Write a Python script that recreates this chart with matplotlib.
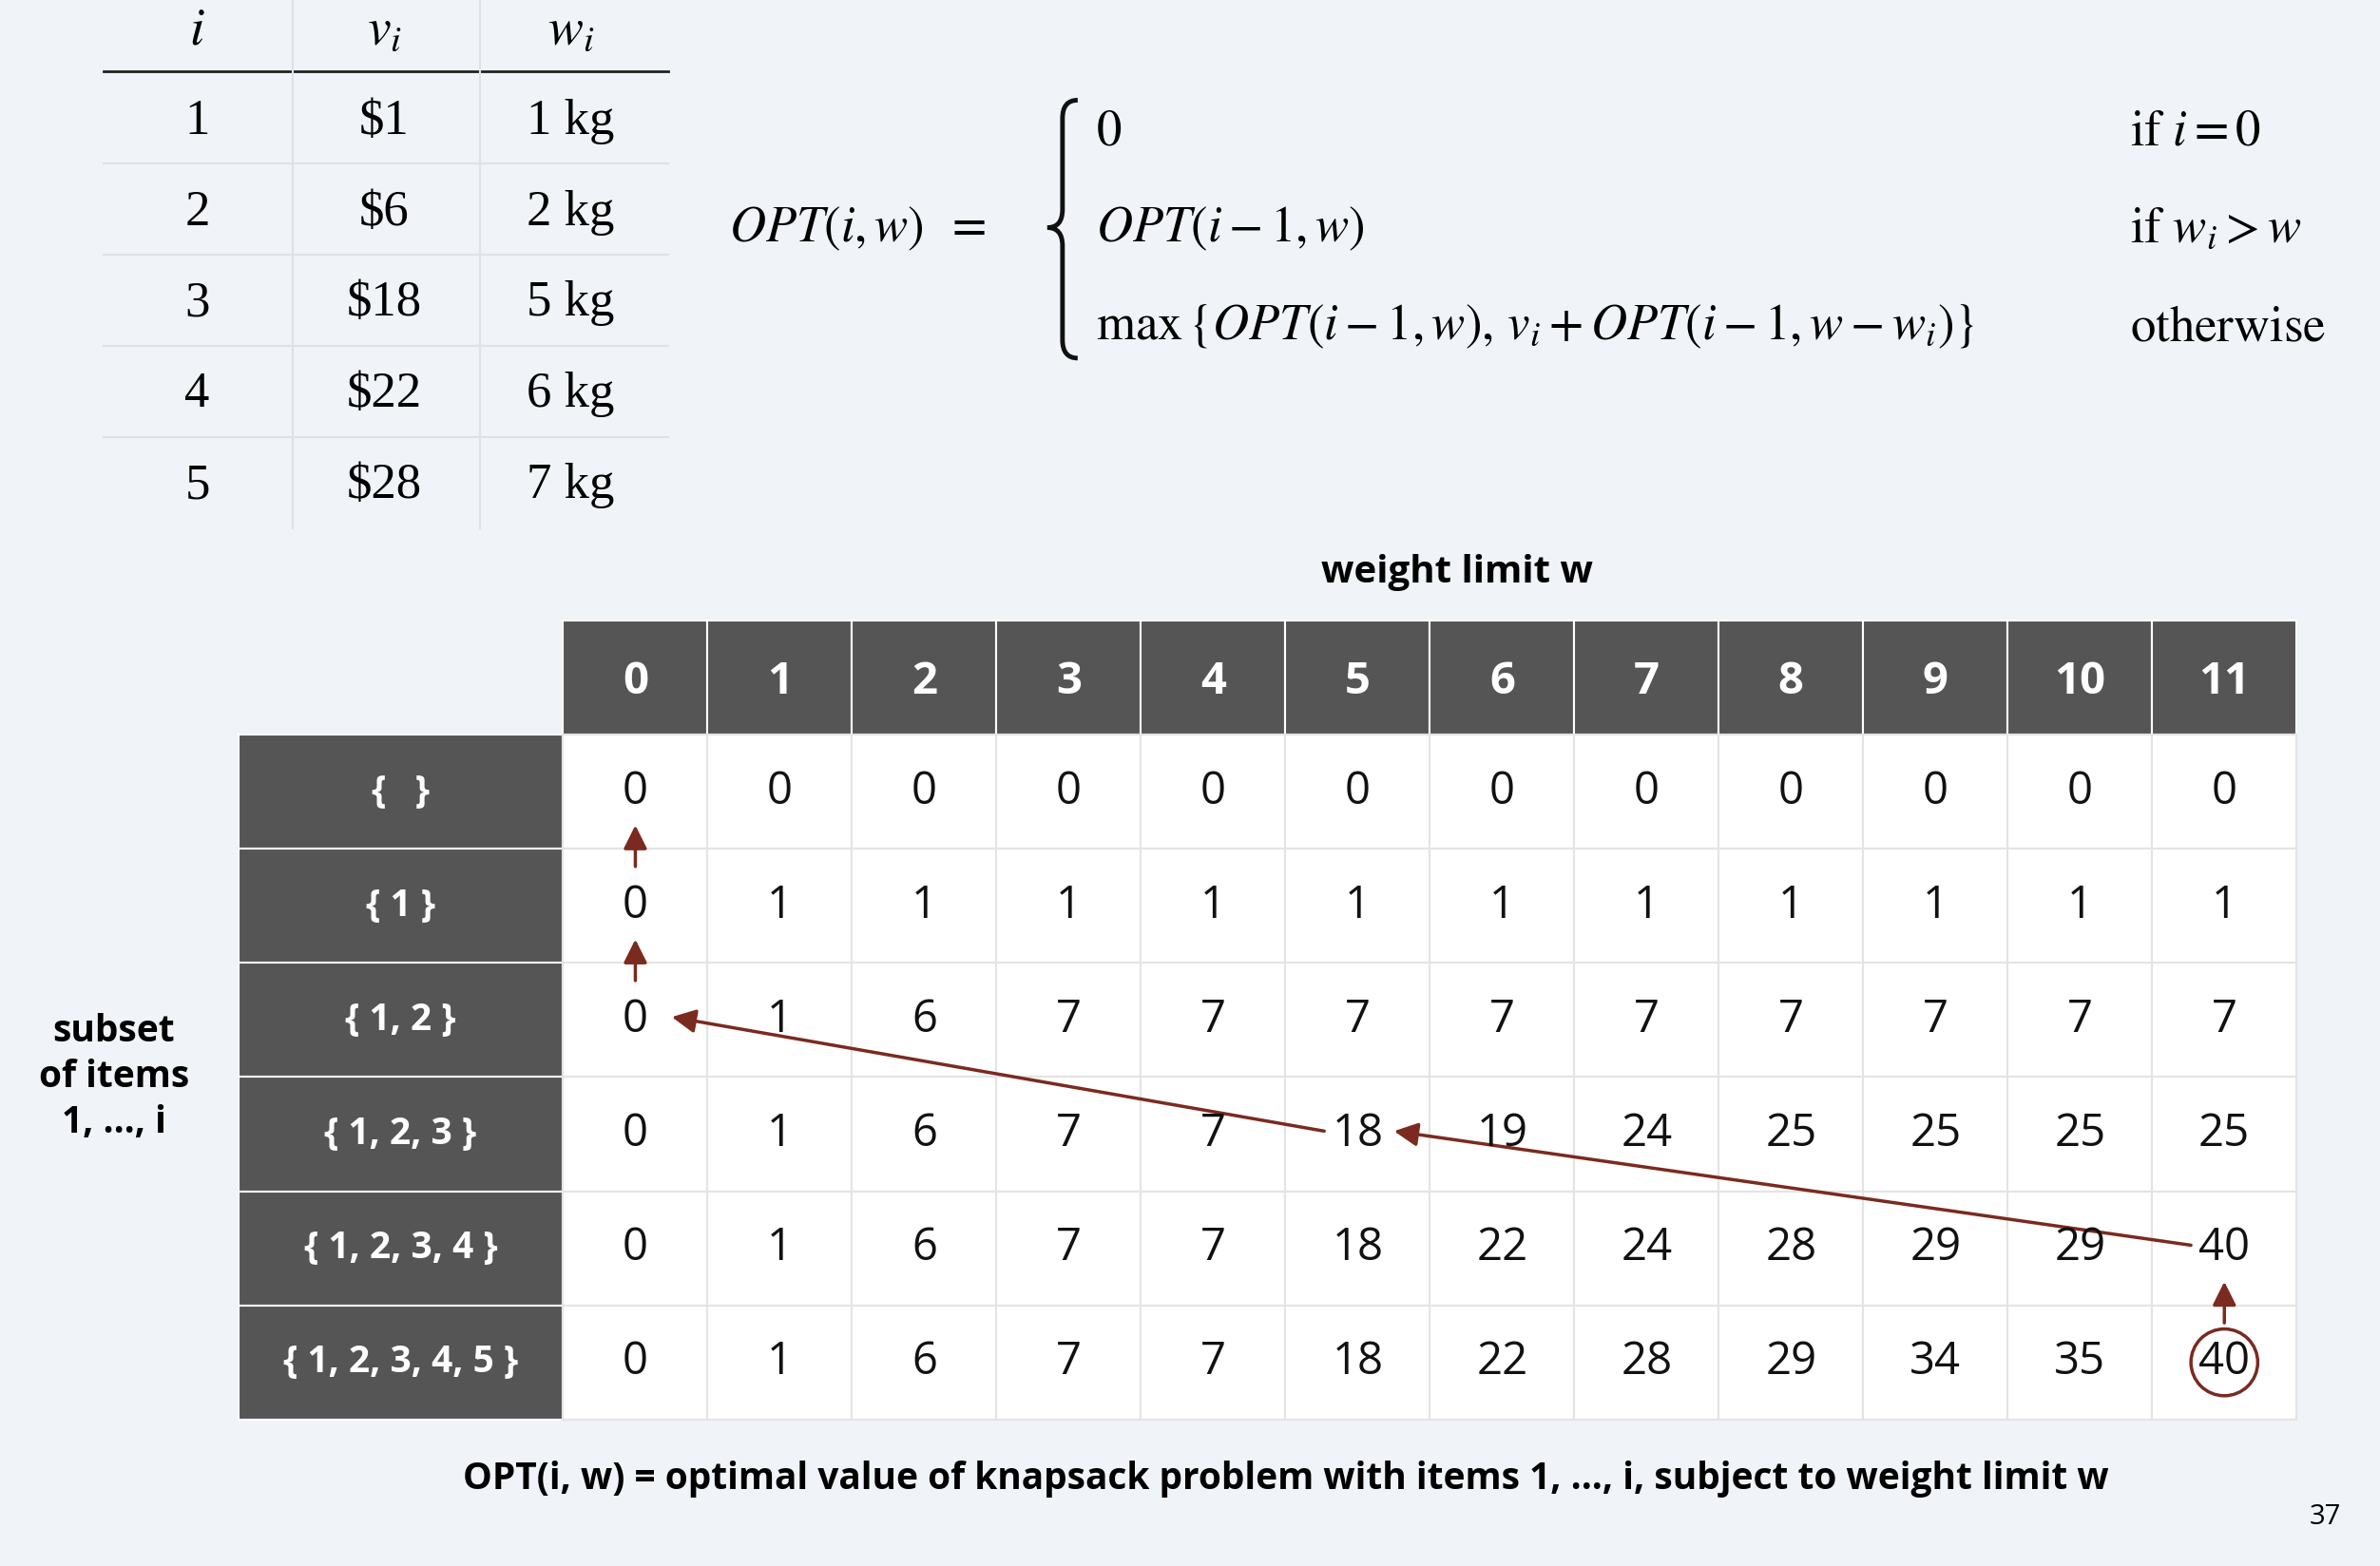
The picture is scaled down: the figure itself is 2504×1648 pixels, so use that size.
import matplotlib
matplotlib.use("Agg")
import matplotlib.pyplot as plt
from matplotlib.patches import Rectangle, Circle, FancyArrowPatch
from matplotlib.path import Path
from matplotlib.patches import PathPatch

plt.rcParams['mathtext.fontset'] = 'stix'

# ---- data ----
items = [1, 2, 3, 4, 5]
values = ["$1", "$6", "$18", "$22", "$28"]
weights = ["1 kg", "2 kg", "5 kg", "6 kg", "7 kg"]
weight_limits = list(range(12))
subset_labels = ["{   }", "{ 1 }", "{ 1, 2 }", "{ 1, 2, 3 }", "{ 1, 2, 3, 4 }", "{ 1, 2, 3, 4, 5 }"]
opt = [
    [0, 0, 0, 0, 0, 0, 0, 0, 0, 0, 0, 0],
    [0, 1, 1, 1, 1, 1, 1, 1, 1, 1, 1, 1],
    [0, 1, 6, 7, 7, 7, 7, 7, 7, 7, 7, 7],
    [0, 1, 6, 7, 7, 18, 19, 24, 25, 25, 25, 25],
    [0, 1, 6, 7, 7, 18, 22, 24, 28, 29, 29, 40],
    [0, 1, 6, 7, 7, 18, 22, 28, 29, 34, 35, 40],
]
trace = [(5, 11), (4, 11), (3, 5), (2, 0), (1, 0), (0, 0)]  # (row, col)

BG = "#f0f4f8"
DARK = "#555555"
RED = "#7b2a1f"
SANS = "Open Sans"
SERIF = "Liberation Serif"

fig = plt.figure(figsize=(25.04, 16.48), dpi=100, facecolor=BG)
ax = fig.add_axes([0, 0, 1, 1])
ax.set_xlim(0, 1568)
ax.set_ylim(1032, 0)
ax.axis("off")
ax.set_facecolor(BG)

# ---- item table ----
tcols = [130, 253, 376]
ax.text(tcols[0], 20, "$i$", ha="center", va="center", fontsize=40)
ax.text(tcols[1], 20, "$v_i$", ha="center", va="center", fontsize=40)
ax.text(tcols[2], 20, "$w_i$", ha="center", va="center", fontsize=40)
ax.plot([68, 440], [47, 47], color="#222222", lw=2)
for k in range(len(items)):
    y = 80 + 60 * k
    for x, s in zip(tcols, [str(items[k]), values[k], weights[k]]):
        ax.text(x, y, s, ha="center", va="center", fontsize=38, family=SERIF)
    if k < len(items) - 1:
        ax.plot([68, 440], [y + 28, y + 28], color="#dde2e7", lw=1.5)
for x in [193, 316]:
    ax.plot([x, x], [0, 348], color="#dde2e7", lw=1.5)

# ---- recurrence ----
fs = 38
ax.text(480, 150, r"$OPT(i,w)\;\;=$", ha="left", va="center", fontsize=fs)
# brace
bx, top, mid, bot = 710, 66, 150, 236
verts = [(bx, top), (bx - 10, top), (bx - 10, top + 12),
         (bx - 10, mid - 12),
         (bx - 10, mid), (bx - 20, mid),
         (bx - 10, mid), (bx - 10, mid + 12),
         (bx - 10, bot - 12),
         (bx - 10, bot), (bx, bot)]
codes = [Path.MOVETO, Path.CURVE3, Path.CURVE3,
         Path.LINETO,
         Path.CURVE3, Path.CURVE3,
         Path.CURVE3, Path.CURVE3,
         Path.LINETO,
         Path.CURVE3, Path.CURVE3]
ax.add_patch(PathPatch(Path(verts, codes), fill=False, lw=3.5, color="#111111"))
ax.text(722, 86, r"$0$", ha="left", va="center", fontsize=fs)
ax.text(722, 150, r"$OPT(i-1,w)$", ha="left", va="center", fontsize=fs)
ax.text(722, 215, r"$\mathrm{max}\,\{OPT(i-1,w),\,v_i + OPT(i-1,w-w_i)\}$", ha="left", va="center", fontsize=fs)
ax.text(1403, 86, r"$\mathrm{if}\ i=0$", ha="left", va="center", fontsize=fs)
ax.text(1403, 150, r"$\mathrm{if}\ w_i>w$", ha="left", va="center", fontsize=fs)
ax.text(1403, 215, r"$\mathrm{otherwise}$", ha="left", va="center", fontsize=fs)

# ---- DP table ----
x0, cw = 371, 95.17
y0, rh = 409, 75.2
lx0 = 157

def cx(c):
    return x0 + cw * (c + 0.5)

def cy(r):
    return y0 + rh * (r + 1.5)

ax.text(960, 377, "weight limit w", ha="center", va="center", fontsize=29, weight="bold", family=SANS)
for c, w in enumerate(weight_limits):
    ax.add_patch(Rectangle((x0 + cw * c, y0), cw, rh, facecolor=DARK, edgecolor="white", lw=1.5))
    ax.text(cx(c), y0 + rh / 2 + 3, str(w), ha="center", va="center", fontsize=34, weight="bold", color="white", family=SANS)
for r, lab in enumerate(subset_labels):
    ytop = y0 + rh * (r + 1)
    ax.add_patch(Rectangle((lx0, ytop), x0 - lx0, rh, facecolor=DARK, edgecolor="white", lw=1.5))
    ax.text((lx0 + x0) / 2, cy(r), lab, ha="center", va="center", fontsize=28, weight="bold", color="white", family=SANS)
    for c in range(len(weight_limits)):
        ax.add_patch(Rectangle((x0 + cw * c, ytop), cw, rh, facecolor="white", edgecolor="#e4e4e4", lw=1.5))
        ax.text(cx(c), cy(r), str(opt[r][c]), ha="center", va="center", fontsize=34, family=SANS, color="#111111")

ax.text(75, 710, "subset\nof items\n1, …, i", ha="center", va="center", fontsize=28, weight="bold",
        family=SANS, linespacing=1.3)

# trace arrows
for (r1, c1), (r2, c2) in zip(trace[:-1], trace[1:]):
    if c1 == c2:
        p1 = (cx(c1), cy(r1) - 26)
        p2 = (cx(c2), cy(r2) + 22)
    else:
        p1 = (cx(c1) - 22, cy(r1) - 2)
        p2 = (cx(c2) + 24, cy(r2) - 2)
    ax.add_patch(FancyArrowPatch(p1, p2, arrowstyle="-|>,head_length=10,head_width=5",
                                 color=RED, lw=2.5, mutation_scale=1.5, shrinkA=0, shrinkB=0))
rr, rc = trace[0]
ax.add_patch(Circle((cx(rc), cy(rr)), 22, fill=False, edgecolor=RED, lw=2.5))

ax.text(847, 975, "OPT(i, w) = optimal value of knapsack problem with items 1, …, i, subject to weight limit w",
        ha="center", va="center", fontsize=28, weight="bold", family=SANS)
ax.text(1532, 1000, "37", ha="center", va="center", fontsize=21, family=SANS)

fig.savefig("out.png", dpi=100, facecolor=BG)
